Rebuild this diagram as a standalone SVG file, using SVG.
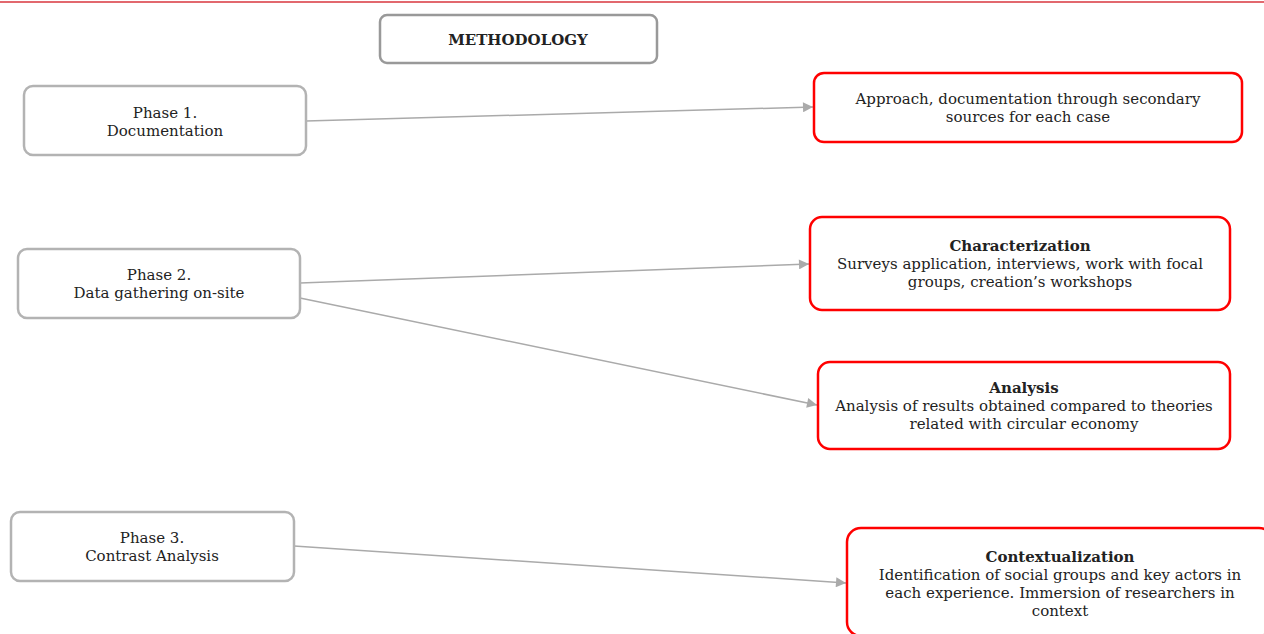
<svg xmlns="http://www.w3.org/2000/svg" width="1264" height="634" viewBox="0 0 1264 634">
<style>
text{font-family:"DejaVu Serif",serif;font-size:15px;fill:#222;text-anchor:middle}
.b{font-weight:bold}
.gray{fill:#fff;stroke:#b3b3b3;stroke-width:2.5}
.title{fill:#fff;stroke:#999;stroke-width:2.5}
.red{fill:#fff;stroke:#ff0000;stroke-width:2.5}
.edge{stroke:#aaa;stroke-width:1.5;fill:none;marker-end:url(#arr)}
</style>
<defs>
<marker id="arr" viewBox="0 0 10 10" refX="10" refY="5" markerWidth="11" markerHeight="10" markerUnits="userSpaceOnUse" orient="auto">
<path d="M0,0 L10,5 L0,10 z" fill="#aaa"/>
</marker>
</defs>
<rect width="1264" height="634" fill="#fff"/>
<line x1="0" y1="2" x2="1264" y2="2" stroke="#d9363e" stroke-width="1.5"/>
<g id="connectors">
<line class="edge" x1="306" y1="121" x2="813" y2="107"/>
<line class="edge" x1="300" y1="283" x2="809" y2="264"/>
<line class="edge" x1="300" y1="298" x2="817" y2="405"/>
<line class="edge" x1="294" y1="546" x2="846" y2="583"/>
</g>
<g id="methodology">
<rect class="title" x="380" y="15" width="277" height="48" rx="7"/>
<text class="b" x="518" y="45">METHODOLOGY</text>
</g>
<g id="phase1">
<rect class="gray" x="24" y="86" width="282" height="69" rx="9"/>
<text x="165" y="118">Phase 1.</text>
<text x="165" y="136">Documentation</text>
</g>
<g id="phase2">
<rect class="gray" x="18" y="249" width="282" height="69" rx="9"/>
<text x="159" y="280">Phase 2.</text>
<text x="159" y="298">Data gathering on-site</text>
</g>
<g id="phase3">
<rect class="gray" x="11" y="512" width="283" height="69" rx="9"/>
<text x="152" y="543">Phase 3.</text>
<text x="152" y="561">Contrast Analysis</text>
</g>
<g id="approach">
<rect class="red" x="814" y="73" width="428" height="69" rx="10"/>
<text x="1028" y="104">Approach, documentation through secondary</text>
<text x="1028" y="122">sources for each case</text>
</g>
<g id="characterization">
<rect class="red" x="810" y="217" width="420" height="93" rx="12"/>
<text class="b" x="1020" y="251">Characterization</text>
<text x="1020" y="269">Surveys application, interviews, work with focal</text>
<text x="1020" y="287">groups, creation’s workshops</text>
</g>
<g id="analysis">
<rect class="red" x="818" y="362" width="412" height="87" rx="12"/>
<text class="b" x="1024" y="393">Analysis</text>
<text x="1024" y="411">Analysis of results obtained compared to theories</text>
<text x="1024" y="429">related with circular economy</text>
</g>
<g id="contextualization">
<rect class="red" x="847" y="528" width="426" height="108" rx="14"/>
<text class="b" x="1060" y="562">Contextualization</text>
<text x="1060" y="580">Identification of social groups and key actors in</text>
<text x="1060" y="598">each experience. Immersion of researchers in</text>
<text x="1060" y="616">context</text>
</g>
</svg>
